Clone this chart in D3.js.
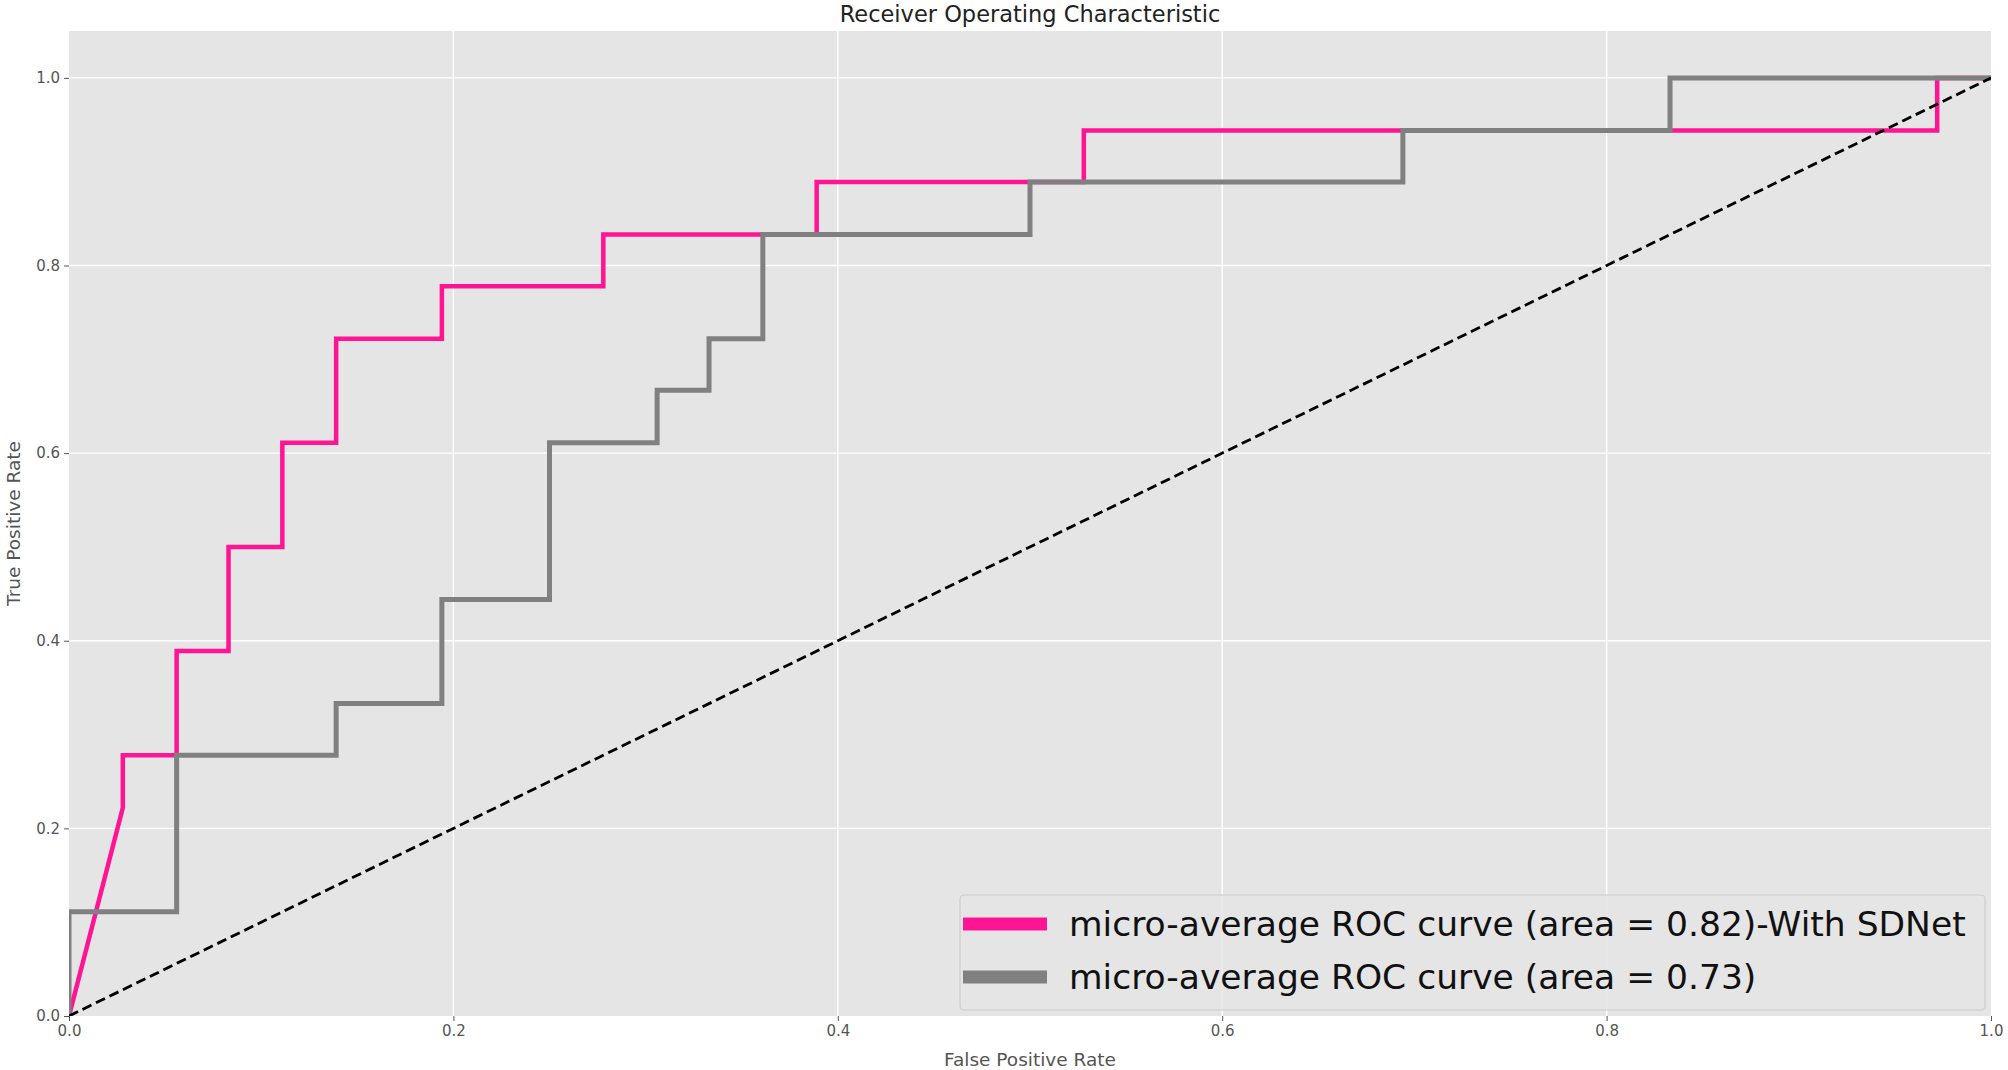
<!DOCTYPE html>
<html>
<head>
<meta charset="utf-8">
<script src="https://cdn.jsdelivr.net/npm/d3@7"></script>
<style>
  body { margin: 0; background: #fff; }
  text { font-family: "DejaVu Sans", sans-serif; }
</style>
</head>
<body>
<div id="vis"></div>
<script>
const FRAME_WIDTH = 2008;
const FRAME_HEIGHT = 1070;
const MARGINS = {left: 69, right: 17, top: 31, bottom: 54};

// ROC points
const SDNET_FPR = [0, 0.028, 0.028, 0.056, 0.056, 0.083, 0.083, 0.111, 0.111, 0.139, 0.139,
                   0.194, 0.194, 0.278, 0.278, 0.389, 0.389, 0.528, 0.528, 0.972, 0.972, 1.0];
const SDNET_TPR = [0, 0.222, 0.278, 0.278, 0.389, 0.389, 0.5, 0.5, 0.611, 0.611, 0.722,
                   0.722, 0.778, 0.778, 0.833, 0.833, 0.889, 0.889, 0.944, 0.944, 1.0, 1.0];

const BASE_FPR = [0, 0, 0.056, 0.056, 0.139, 0.139, 0.194, 0.194, 0.25, 0.25, 0.306, 0.306,
                  0.333, 0.333, 0.361, 0.361, 0.5, 0.5, 0.694, 0.694, 0.833, 0.833, 1.0];
const BASE_TPR = [0, 0.111, 0.111, 0.278, 0.278, 0.333, 0.333, 0.444, 0.444, 0.611, 0.611, 0.667,
                  0.667, 0.722, 0.722, 0.833, 0.833, 0.889, 0.889, 0.944, 0.944, 1.0, 1.0];

const CHANCE_X = [0, 1];
const CHANCE_Y = [0, 1];

const TICKS = [0, 0.2, 0.4, 0.6, 0.8, 1.0];
const LEGEND_LABELS = ["micro-average ROC curve (area = 0.82)-With SDNet",
                       "micro-average ROC curve (area = 0.73)"];
const COLORS = ["#ff1493", "#808080"];

const VIS_WIDTH = FRAME_WIDTH - MARGINS.left - MARGINS.right;
const VIS_HEIGHT = FRAME_HEIGHT - MARGINS.top - MARGINS.bottom;

const FRAME = d3.select("#vis")
  .append("svg")
    .attr("width", FRAME_WIDTH)
    .attr("height", FRAME_HEIGHT);

const X_SCALE = d3.scaleLinear().domain([0, 1]).range([0, VIS_WIDTH]);
const Y_SCALE = d3.scaleLinear().domain([0, 1.05]).range([VIS_HEIGHT, 0]);

const G = FRAME.append("g")
  .attr("transform", "translate(" + MARGINS.left + "," + MARGINS.top + ")");

G.append("rect")
  .attr("width", VIS_WIDTH)
  .attr("height", VIS_HEIGHT)
  .attr("fill", "#e5e5e5");

G.append("clipPath").attr("id", "clip")
  .append("rect").attr("width", VIS_WIDTH).attr("height", VIS_HEIGHT);

// grid
G.selectAll(".vgrid").data(TICKS.slice(1, -1)).enter()
  .append("line")
    .attr("x1", d => X_SCALE(d)).attr("x2", d => X_SCALE(d))
    .attr("y1", 0).attr("y2", VIS_HEIGHT)
    .attr("stroke", "#fff").attr("stroke-width", 1.4);
G.selectAll(".hgrid").data(TICKS.slice(1)).enter()
  .append("line")
    .attr("x1", 0).attr("x2", VIS_WIDTH)
    .attr("y1", d => Y_SCALE(d)).attr("y2", d => Y_SCALE(d))
    .attr("stroke", "#fff").attr("stroke-width", 1.4);

// axes
const xAxis = G.append("g")
  .attr("transform", "translate(0," + VIS_HEIGHT + ")")
  .call(d3.axisBottom(X_SCALE).tickValues(TICKS).tickFormat(d3.format(".1f")).tickSizeOuter(0).tickSize(5).tickPadding(4));
const yAxis = G.append("g")
  .call(d3.axisLeft(Y_SCALE).tickValues(TICKS).tickFormat(d3.format(".1f")).tickSizeOuter(0).tickSize(5).tickPadding(4));
[xAxis, yAxis].forEach(a => {
  a.select(".domain").remove();
  a.selectAll("line").attr("stroke", "#555");
  a.selectAll("text").attr("fill", "#555").attr("font-size", 15)
    .style("font-family", "DejaVu Sans");
});

// curves
const line = d3.line().x(d => X_SCALE(d[0])).y(d => Y_SCALE(d[1]));
const plot = G.append("g").attr("clip-path", "url(#clip)");

plot.append("path")
  .datum(d3.zip(SDNET_FPR, SDNET_TPR))
  .attr("d", line)
  .attr("fill", "none")
  .attr("stroke", COLORS[0])
  .attr("stroke-width", 4.5)
  .attr("stroke-linejoin", "miter");

plot.append("path")
  .datum(d3.zip(BASE_FPR, BASE_TPR))
  .attr("d", line)
  .attr("fill", "none")
  .attr("stroke", COLORS[1])
  .attr("stroke-width", 5)
  .attr("stroke-linejoin", "miter");

plot.append("path")
  .datum(d3.zip(CHANCE_X, CHANCE_Y))
  .attr("d", line)
  .attr("fill", "none")
  .attr("stroke", "#000")
  .attr("stroke-width", 2.8)
  .attr("stroke-dasharray", "10,5");

// legend
const LEG = {x: 960, y: 895, w: 1025, h: 115};
const legend = FRAME.append("g");
legend.append("rect")
  .attr("x", LEG.x).attr("y", LEG.y)
  .attr("width", LEG.w).attr("height", LEG.h)
  .attr("rx", 4)
  .attr("fill", "#e5e5e5").attr("fill-opacity", 0.8)
  .attr("stroke", "#cccccc").attr("stroke-width", 1.2);

legend.selectAll(".item").data(LEGEND_LABELS).enter()
  .append("g")
    .attr("transform", (d, i) => "translate(" + LEG.x + "," + (924 + i * 53) + ")")
    .each(function(d, i) {
      const g = d3.select(this);
      g.append("line")
        .attr("x1", 3).attr("x2", 87)
        .attr("y1", 0).attr("y2", 0)
        .attr("stroke", COLORS[i]).attr("stroke-width", 13);
      g.append("text")
        .attr("x", 109).attr("y", 0)
        .attr("dy", "0.36em")
        .attr("font-size", 34.5)
        .attr("fill", "#111")
        .text(d);
    });

// labels
FRAME.append("text")
  .attr("x", MARGINS.left + VIS_WIDTH / 2).attr("y", 22)
  .attr("text-anchor", "middle")
  .attr("font-size", 22.5)
  .attr("fill", "#222")
  .text("Receiver Operating Characteristic");

FRAME.append("text")
  .attr("x", MARGINS.left + VIS_WIDTH / 2).attr("y", 1066)
  .attr("text-anchor", "middle")
  .attr("font-size", 18.5)
  .attr("fill", "#555")
  .text("False Positive Rate");

FRAME.append("text")
  .attr("transform", "translate(20," + (MARGINS.top + VIS_HEIGHT / 2) + ") rotate(-90)")
  .attr("text-anchor", "middle")
  .attr("font-size", 18.5)
  .attr("fill", "#555")
  .text("True Positive Rate");
</script>
</body>
</html>
